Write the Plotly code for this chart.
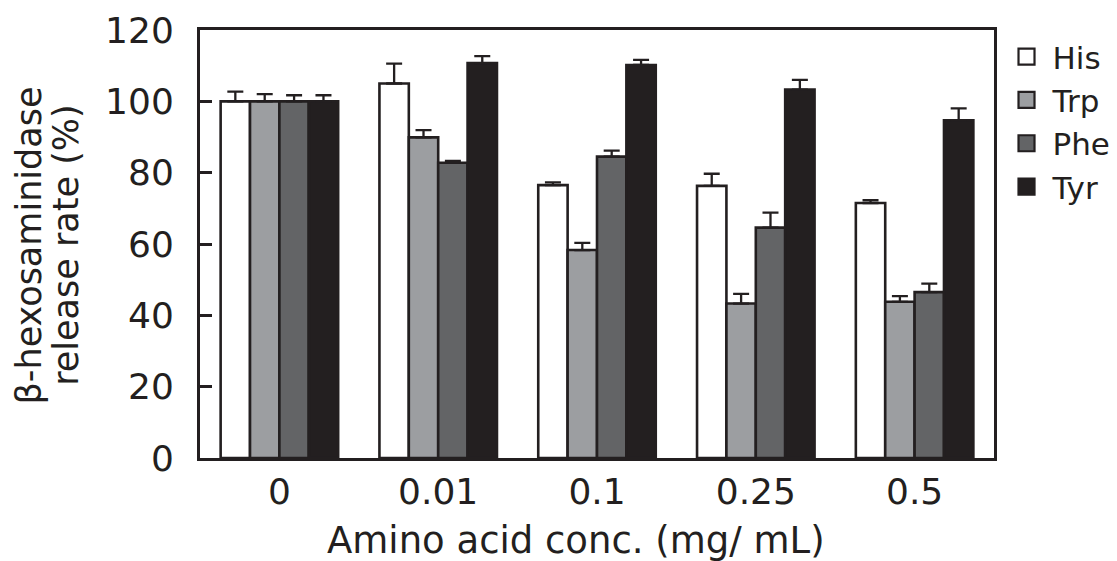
import plotly.graph_objects as go

categories = ["0", "0.01", "0.1", "0.25", "0.5"]
series_names = ["His", "Trp", "Phe", "Tyr"]

his = [100, 105.0, 76.5, 76.3, 71.5]
trp = [100, 89.9, 58.3, 43.3, 43.8]
phe = [100, 82.8, 84.5, 64.6, 46.5]
tyr = [100, 110.7, 110.2, 103.3, 94.7]

his_err = [2.7, 5.6, 0.8, 3.4, 0.8]
trp_err = [2.0, 2.0, 2.0, 2.7, 1.6]
phe_err = [1.7, 0.5, 1.7, 4.2, 2.4]
tyr_err = [1.7, 2.0, 1.4, 2.7, 3.3]

y_title_lines = ["β-hexosaminidase", "release rate (%)"]
x_title = "Amino acid conc. (mg/ mL)"

colors = ["#ffffff", "#9c9ea1", "#636466", "#231f20"]
edge = "#231f20"

values = [his, trp, phe, tyr]
errors = [his_err, trp_err, phe_err, tyr_err]

font_family = "DejaVu Sans, Verdana, sans-serif"

fig = go.Figure()
for name, vals, errs, col in zip(series_names, values, errors, colors):
    fig.add_trace(go.Bar(
        x=categories, y=vals, name=name, showlegend=False,
        marker=dict(color=col, line=dict(color=edge, width=2.6)),
        error_y=dict(type="data", array=errs, arrayminus=[0] * len(errs),
                     symmetric=False, color=edge, thickness=2.3, width=8),
    ))

# legend entries with larger square swatches
for name, col in zip(series_names, colors):
    fig.add_trace(go.Scatter(
        x=[None], y=[None], mode="markers", name=name,
        marker=dict(symbol="square", size=16, color=col,
                    line=dict(color=edge, width=2.2)),
    ))

fig.update_layout(
    barmode="group",
    bargap=0.26,
    bargroupgap=0,
    width=1109, height=553,
    margin=dict(l=192, r=123, t=22, b=103, autoexpand=False),
    paper_bgcolor="white", plot_bgcolor="white",
    font=dict(family=font_family, color="#231f20", size=34),
    legend=dict(x=1.0082, y=1.0, xanchor="left", yanchor="top",
                font=dict(size=31, color="#231f20"),
                itemwidth=42, tracegroupgap=0,
                bgcolor="rgba(0,0,0,0)"),
    showlegend=True,
    annotations=[
        dict(text=y_title_lines[0], xref="paper", yref="paper", x=-0.2160, y=0.4977,
             xanchor="center", yanchor="middle", textangle=-90, showarrow=False,
             font=dict(size=35, family=font_family, color="#231f20")),
        dict(text=y_title_lines[1], xref="paper", yref="paper", x=-0.1690, y=0.4977,
             xanchor="center", yanchor="middle", textangle=-90, showarrow=False,
             font=dict(size=35, family=font_family, color="#231f20")),
        dict(text=x_title, xref="paper", yref="paper", x=0.4736, y=-0.1939,
             xanchor="center", yanchor="middle", showarrow=False,
             font=dict(size=37, family=font_family, color="#231f20")),
    ],
)

fig.update_xaxes(
    type="category", range=[-0.5, 4.5], automargin=False,
    showline=True, linecolor=edge, linewidth=3, mirror=True,
    ticks="", tickfont=dict(size=36, family=font_family),
    showgrid=False, zeroline=False,
)
fig.update_yaxes(
    range=[0, 120], dtick=20, automargin=False,
    showline=True, linecolor=edge, linewidth=3, mirror=True,
    ticks="inside", ticklen=12, tickwidth=3, tickcolor=edge,
    tickfont=dict(size=36, family=font_family),
    ticklabelstandoff=16,
    showgrid=False, zeroline=False,
)

fig.write_html("out.html")
